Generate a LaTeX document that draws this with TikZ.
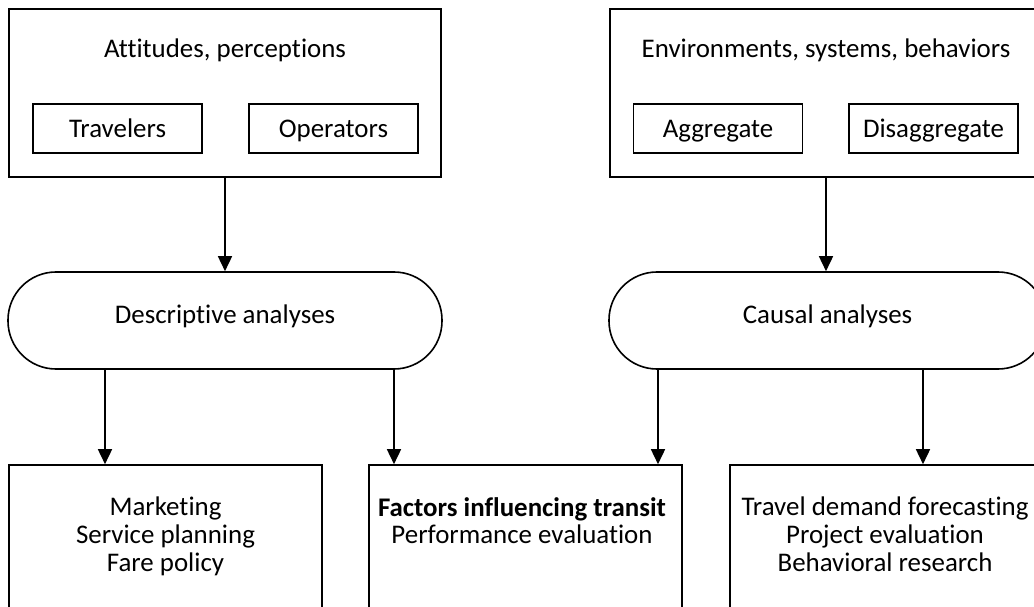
\documentclass[tikz,border=0pt]{standalone}
\usepackage{fontspec}
\setmainfont[Ligatures={NoCommon,NoRare}]{Carlito}
\usetikzlibrary{arrows.meta}

\begin{document}
\begin{tikzpicture}[x=1bp, y=-1bp,
    box/.style={draw, line width=1.6bp, inner sep=0pt},
    small/.style={box, minimum width=169bp, minimum height=49bp,
      text height=22bp, text depth=3bp},
    pill/.style={draw, line width=1.6bp, rounded corners=48bp,
      minimum width=434bp, minimum height=97bp, text height=20bp, text depth=15bp},
    arr/.style={line width=1.6bp, -{Triangle[width=14bp,length=15bp]}},
    font=\fontsize{27}{28}\selectfont]

	\useasboundingbox (0,0) rectangle (1034,607);
	\clip (0,0) rectangle (1034,607);

	% top left
	\node[box, minimum width=432bp, minimum height=168bp] (att) at (225,93) {};
	\node[anchor=base] (atttitle) at (225,58) {Attitudes, perceptions};
	\node[small] (trav) at (117.5,128.5) {Travelers};
	\node[small] (oper) at (333.5,128.5) {Operators};

	% top right
	\node[box, minimum width=432bp, minimum height=168bp] (env) at (826,93) {};
	\node[anchor=base] (envtitle) at (826,58) {Environments, systems, behaviors};
	\node[small] (aggr) at (718,128.5) {Aggregate};
	\node[small] (disag) at (933.5,128.5) {Disaggregate};

	\node[pill] (desc) at (225,320.5) {Descriptive analyses};
	\node[pill, minimum width=437bp] (caus) at (827.5,320.5) {Causal analyses};

	% bottom
	\node[box, minimum width=313bp, minimum height=180bp] (mkt) at (165.5,555) {};
	\node[anchor=north, align=center, inner sep=0pt] (mkttext) at (165.5,497)
        {Marketing\\Service planning\\Fare policy};
	\node[box, minimum width=313bp, minimum height=180bp] (fact) at (525.5,555) {};
	\node[anchor=north, align=center, inner sep=0pt] (facttext) at (522,497)
        {\textbf{Factors influencing transit}\\Performance evaluation};
	\node[box, minimum width=313bp, minimum height=180bp] (fore) at (886.5,555) {};
	\node[anchor=north, align=center, inner sep=0pt] (foretext) at (885,497)
        {Travel demand forecasting\\Project evaluation\\Behavioral research};

	\coordinate (x1) at (105,0); \coordinate (x2) at (394,0);
	\coordinate (x3) at (658,0); \coordinate (x4) at (923,0);

	\draw[arr] (att.south) -- (desc.north -| att.south);
	\draw[arr] (env.south) -- (caus.north -| env.south);
	\draw[arr] (desc.south -| x1) -- (mkt.north -| x1);
	\draw[arr] (desc.south -| x2) -- (fact.north -| x2);
	\draw[arr] (caus.south -| x3) -- (fact.north -| x3);
	\draw[arr] (caus.south -| x4) -- (fore.north -| x4);
      \end{tikzpicture}
\end{document}
